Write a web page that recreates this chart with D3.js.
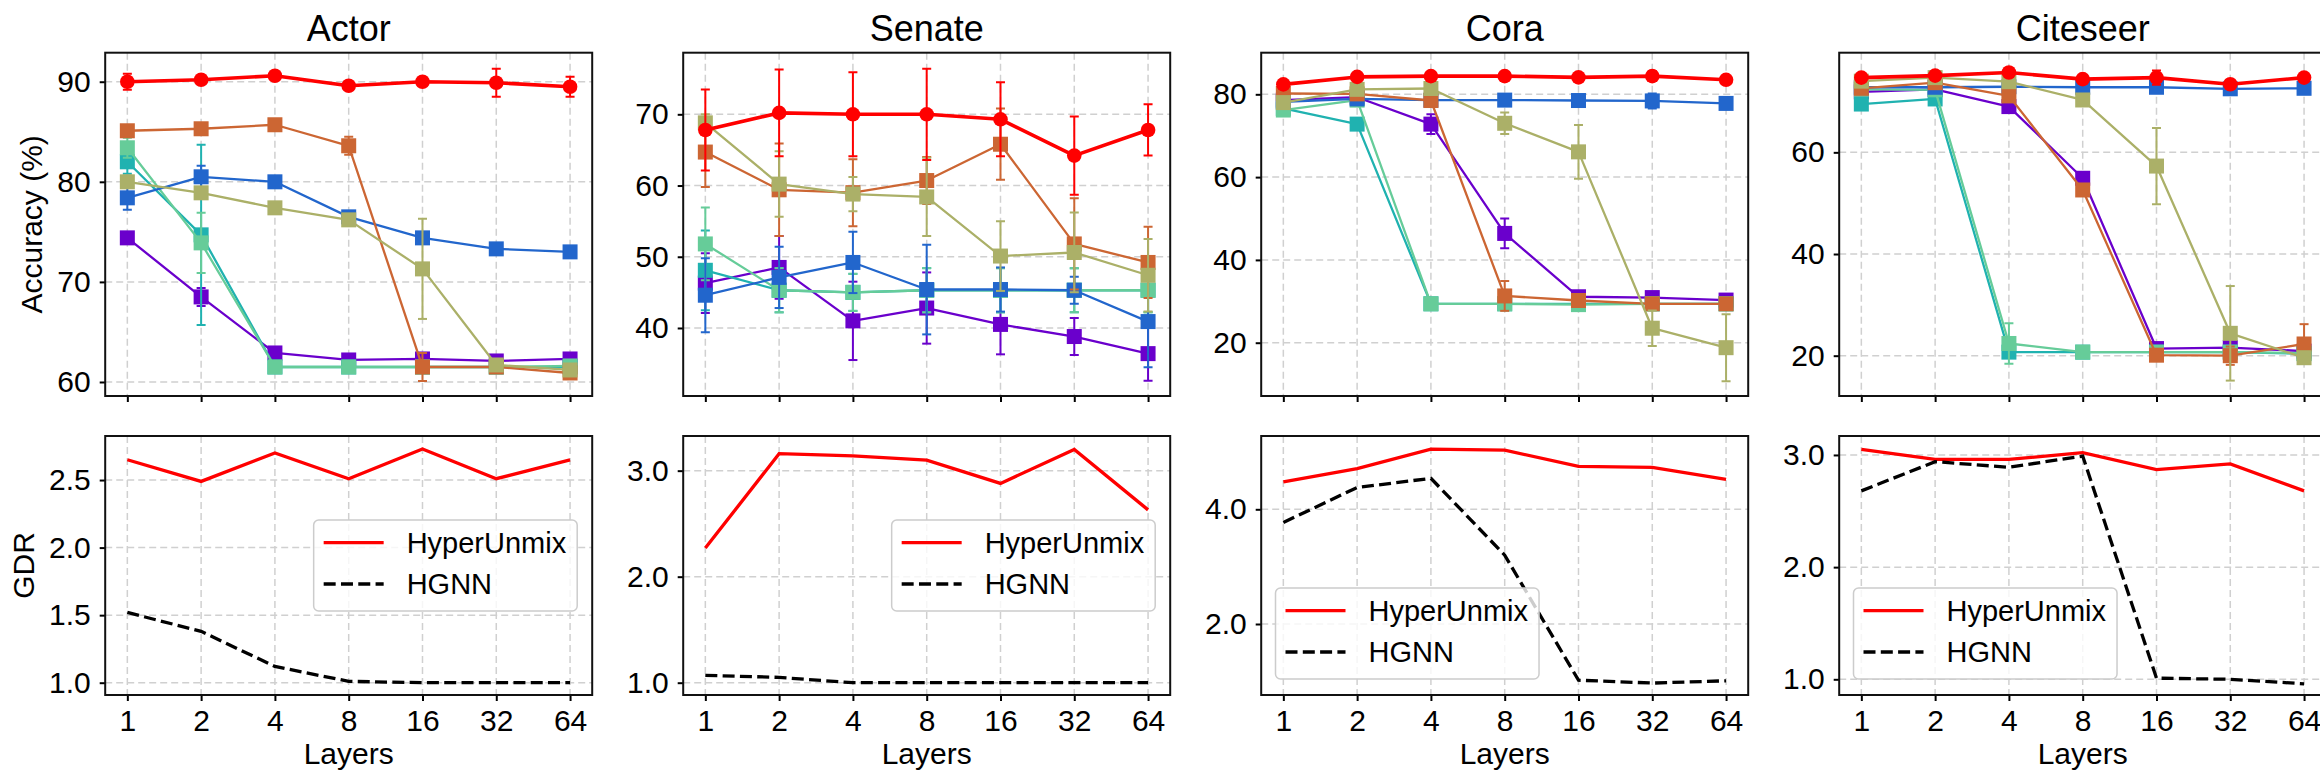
<!DOCTYPE html>
<html>
<head>
<meta charset="utf-8">
<script src="https://cdn.jsdelivr.net/npm/d3@7"></script>
<style>
  body { margin: 0; background: #fff; }
  text { font-family: "Liberation Sans", Arial, sans-serif; fill: #000; }
</style>
</head>
<body>
<svg id="fig" width="2320" height="775"></svg>
<script>
// x categories and panel names
var layers = ["1", "2", "4", "8", "16", "32", "64"];
var datasets = ["Actor", "Senate", "Cora", "Citeseer"];

// baselines (squares) + HyperUnmix (circles), drawn in this order
var methods = ["B1", "B2", "B3", "B4", "B5", "B6", "HyperUnmix"];
var colors = ["#6a00cc", "#20b2b0", "#66cc99", "#2266cc", "#cc6633", "#abb068", "#ff0000"];

// accuracy means (%), one row per method
var accActor = [
  [74.4, 68.5, 62.9, 62.2, 62.3, 62.1, 62.3],
  [82.0, 74.7, 61.5, 61.5, 61.5, 61.5, 61.5],
  [83.4, 73.9, 61.5, 61.5, 61.5, 61.5, 61.6],
  [78.4, 80.5, 80.0, 76.5, 74.4, 73.3, 73.0],
  [85.1, 85.3, 85.7, 83.6, 61.5, 61.5, 60.9],
  [80.0, 78.9, 77.4, 76.2, 71.3, 61.7, 61.2],
  [90.0, 90.2, 90.6, 89.6, 90.0, 89.9, 89.5]
];
var errActor = [
  [0.3, 0.9, 0.3, 0.3, 0.3, 0.3, 0.3],
  [1.2, 9.0, 0.2, 0.2, 0.2, 0.2, 0.2],
  [1.0, 3.0, 0.2, 0.2, 0.2, 0.2, 0.2],
  [1.2, 1.1, 0.5, 0.3, 0.3, 0.3, 0.3],
  [0.3, 0.3, 0.3, 0.9, 1.4, 0.3, 0.5],
  [0.6, 0.3, 0.3, 0.3, 5.0, 0.3, 0.3],
  [0.8, 0.3, 0.3, 0.3, 0.3, 1.4, 1.0]
];
var accSenate = [
  [46.3, 48.5, 41.0, 42.8, 40.5, 38.8, 36.4],
  [48.1, 45.3, 45.0, 45.3, 45.3, 45.3, 45.3],
  [51.8, 45.3, 45.0, 45.3, 45.3, 45.3, 45.3],
  [44.6, 47.1, 49.2, 45.4, 45.4, 45.3, 40.9],
  [64.7, 59.4, 59.0, 60.7, 65.8, 51.8, 49.2],
  [68.8, 60.2, 58.8, 58.4, 50.1, 50.6, 47.4],
  [67.8, 70.2, 70.0, 70.0, 69.3, 64.2, 67.8]
];
var errSenate = [
  [4.2, 4.4, 5.5, 5.0, 4.2, 2.6, 3.8],
  [5.6, 3.1, 2.6, 3.1, 3.1, 3.1, 3.1],
  [5.1, 3.1, 2.6, 3.1, 3.1, 3.1, 3.1],
  [5.2, 4.3, 4.3, 6.3, 3.1, 1.9, 6.4],
  [4.9, 6.5, 4.7, 3.3, 5.0, 6.4, 5.0],
  [1.2, 4.6, 2.4, 5.5, 4.9, 5.6, 5.1],
  [5.7, 6.1, 5.9, 6.4, 5.2, 5.5, 3.6]
];
var accCora = [
  [78.6, 79.3, 72.8, 46.4, 31.1, 30.9, 30.3],
  [76.6, 72.8, 29.4, 29.4, 29.4, 29.4, 29.4],
  [76.2, 78.6, 29.4, 29.4, 29.2, 29.4, 29.4],
  [78.2, 78.9, 78.6, 78.6, 78.5, 78.4, 77.8],
  [80.2, 80.1, 78.5, 31.3, 30.2, 29.4, 29.4],
  [78.0, 81.2, 81.4, 73.0, 66.1, 23.5, 18.8],
  [82.4, 84.2, 84.4, 84.4, 84.1, 84.4, 83.5]
];
var errCora = [
  [0.5, 0.5, 2.4, 3.6, 0.5, 0.5, 0.5],
  [0.5, 1.0, 0.3, 0.3, 0.3, 0.3, 0.3],
  [0.5, 0.5, 0.3, 0.3, 0.3, 0.3, 0.3],
  [0.5, 0.5, 0.5, 1.0, 0.5, 1.8, 0.5],
  [0.5, 0.5, 0.5, 3.6, 0.5, 0.5, 0.5],
  [0.5, 0.5, 0.5, 2.6, 6.5, 4.3, 8.1],
  [0.8, 0.5, 0.5, 0.5, 0.5, 1.2, 0.5]
];
var accCiteseer = [
  [71.9, 72.4, 69.0, 54.9, 21.4, 21.6, 20.9],
  [69.5, 70.5, 20.7, 20.7, 20.7, 20.7, 20.4],
  [72.4, 72.3, 22.4, 20.7, 20.7, 20.7, 20.5],
  [72.8, 72.8, 72.9, 72.8, 72.8, 72.5, 72.6],
  [72.6, 73.7, 71.1, 52.6, 20.1, 20.0, 22.3],
  [74.0, 74.7, 73.9, 70.3, 57.3, 24.4, 19.6],
  [74.7, 75.1, 75.7, 74.4, 74.7, 73.4, 74.7]
];
var errCiteseer = [
  [0.5, 0.5, 0.5, 0.5, 0.5, 0.5, 0.5],
  [0.5, 0.5, 0.5, 0.5, 0.5, 0.5, 0.5],
  [0.5, 0.5, 4.0, 0.5, 0.5, 0.5, 0.5],
  [0.5, 0.5, 0.5, 0.5, 0.5, 0.5, 0.5],
  [0.5, 0.5, 0.5, 0.5, 0.5, 1.8, 3.9],
  [0.5, 0.5, 0.5, 0.5, 7.5, 9.3, 0.5],
  [0.5, 0.5, 0.5, 0.5, 1.4, 0.5, 0.5]
];

// GDR, one row per dataset
var gdrHyperUnmix = [
  [2.65, 2.49, 2.70, 2.51, 2.73, 2.51, 2.65],
  [2.27, 3.16, 3.14, 3.10, 2.88, 3.20, 2.63],
  [4.48, 4.71, 5.05, 5.03, 4.75, 4.73, 4.52],
  [3.05, 2.96, 2.96, 3.02, 2.87, 2.92, 2.68]
];
var gdrHGNN = [
  [1.52, 1.38, 1.12, 1.01, 1.00, 1.00, 1.00],
  [1.07, 1.05, 1.00, 1.00, 1.00, 1.00, 1.00],
  [3.77, 4.38, 4.54, 3.20, 1.02, 0.97, 1.01],
  [2.68, 2.94, 2.89, 2.99, 1.01, 1.00, 0.96]
];

// axis ranges and ticks
var accDomain = [[58.6, 92.9], [30.45, 78.65], [7.13, 90.05], [12.07, 79.6]];
var accTicks = [[60, 70, 80, 90], [40, 50, 60, 70], [20, 40, 60, 80], [20, 40, 60]];
var gdrDomain = [[0.909, 2.826], [0.884, 3.327], [0.762, 5.278], [0.86, 3.169]];
var gdrTicks = [[1.0, 1.5, 2.0, 2.5], [1, 2, 3], [2, 4], [1, 2, 3]];
var legendLoc = ["center right", "center right", "lower left", "lower left"];

var accMeans = [accActor, accSenate, accCora, accCiteseer];
var accErrs = [errActor, errSenate, errCora, errCiteseer];

var svg = d3.select("#fig");
var panelW = 487, pitch = 578, left0 = 105.2;
var topBox = [52.7, 396], botBox = [436, 695];

function frame(idx, box, yDomain, yTicks, fmt, showX) {
  var left = left0 + idx * pitch;
  var x = d3.scalePoint().domain(layers).range([left, left + panelW]).padding(0.3);
  var y = d3.scaleLinear().domain(yDomain).range([box[1], box[0]]);
  var g = svg.append("g");

  // grid
  var grid = g.append("g")
      .attr("stroke", "#d0d0d0")
      .attr("stroke-width", 1.5)
      .attr("stroke-dasharray", "7,4");
  grid.selectAll("line.gx").data(layers).enter().append("line")
      .attr("x1", function(d) { return x(d); }).attr("x2", function(d) { return x(d); })
      .attr("y1", box[0]).attr("y2", box[1]);
  grid.selectAll("line.gy").data(yTicks).enter().append("line")
      .attr("y1", function(d) { return y(d); }).attr("y2", function(d) { return y(d); })
      .attr("x1", left).attr("x2", left + panelW);

  var clipId = "clip" + idx + "_" + Math.round(box[0]);
  g.append("clipPath").attr("id", clipId).append("rect")
      .attr("x", left).attr("y", box[0]).attr("width", panelW).attr("height", box[1] - box[0]);
  var plot = g.append("g").attr("clip-path", "url(#" + clipId + ")");

  var xAxis = g.append("g")
      .attr("transform", "translate(0," + box[1] + ")")
      .call(d3.axisBottom(x).tickSizeInner(6).tickSizeOuter(0).tickPadding(9)
        .tickFormat(showX ? null : function() { return ""; }));
  var yAxis = g.append("g")
      .attr("transform", "translate(" + left + ",0)")
      .call(d3.axisLeft(y).tickValues(yTicks).tickSizeInner(5.5).tickSizeOuter(0).tickPadding(9)
        .tickFormat(fmt));
  [xAxis, yAxis].forEach(function(a) {
    a.select(".domain").remove();
    a.selectAll(".tick line").attr("stroke", "#000").attr("stroke-width", 2);
    a.selectAll(".tick text").attr("font-size", 30).attr("fill", "#000")
      .attr("font-family", "'Liberation Sans', Arial, sans-serif");
  });

  return { g: g, plot: plot, x: x, y: y, left: left, box: box };
}

function spines(p) {
  p.g.append("rect")
      .attr("x", p.left).attr("y", p.box[0])
      .attr("width", panelW).attr("height", p.box[1] - p.box[0])
      .attr("fill", "none").attr("stroke", "#111").attr("stroke-width", 2);
}

datasets.forEach(function(name, di) {
  // accuracy panel
  var p = frame(di, topBox, accDomain[di], accTicks[di], d3.format("d"), false);
  var means = accMeans[di], errs = accErrs[di];
  methods.forEach(function(m, k) {
    var isOurs = m === "HyperUnmix";
    var col = colors[k];
    var pts = means[k].map(function(v, i) { return { c: layers[i], v: v, e: errs[k][i] }; });
    var s = p.plot.append("g");
    s.append("path").datum(pts)
        .attr("fill", "none").attr("stroke", col)
        .attr("stroke-width", isOurs ? 3.6 : 2.3)
        .attr("stroke-linejoin", "round")
        .attr("d", d3.line().x(function(d) { return p.x(d.c); }).y(function(d) { return p.y(d.v); }));
    var eb = s.append("g").attr("stroke", col).attr("stroke-width", 2);
    pts.forEach(function(d) {
      var cx = p.x(d.c), y1 = p.y(d.v - d.e), y2 = p.y(d.v + d.e);
      eb.append("line").attr("x1", cx).attr("x2", cx).attr("y1", y1).attr("y2", y2);
      eb.append("line").attr("x1", cx - 4.5).attr("x2", cx + 4.5).attr("y1", y1).attr("y2", y1);
      eb.append("line").attr("x1", cx - 4.5).attr("x2", cx + 4.5).attr("y1", y2).attr("y2", y2);
    });
    if (isOurs) {
      s.selectAll("circle").data(pts).enter().append("circle")
          .attr("cx", function(d) { return p.x(d.c); })
          .attr("cy", function(d) { return p.y(d.v); })
          .attr("r", 7.3).attr("fill", col);
    } else {
      s.selectAll("rect").data(pts).enter().append("rect")
          .attr("x", function(d) { return p.x(d.c) - 7.5; })
          .attr("y", function(d) { return p.y(d.v) - 7.5; })
          .attr("width", 15).attr("height", 15).attr("fill", col);
    }
  });
  spines(p);
  p.g.append("text")
      .attr("x", p.left + panelW / 2).attr("y", 40.7)
      .attr("text-anchor", "middle").attr("font-size", 36)
      .text(name);

  // GDR panel
  var q = frame(di, botBox, gdrDomain[di], gdrTicks[di], d3.format(".1f"), true);
  var gdrLine = d3.line().x(function(d, i) { return q.x(layers[i]); }).y(function(d) { return q.y(d); });
  q.plot.append("path").datum(gdrHyperUnmix[di])
      .attr("fill", "none").attr("stroke", "#ff0000").attr("stroke-width", 3.3)
      .attr("d", gdrLine);
  q.plot.append("path").datum(gdrHGNN[di])
      .attr("fill", "none").attr("stroke", "#000").attr("stroke-width", 3.3)
      .attr("stroke-dasharray", "12,5.3")
      .attr("d", gdrLine);
  spines(q);
  q.g.append("text")
      .attr("x", q.left + panelW / 2).attr("y", 764)
      .attr("text-anchor", "middle").attr("font-size", 30)
      .text("Layers");

  // legend
  var lg = q.g.append("g");
  var rowsLg = [
    { label: "HyperUnmix", stroke: "#ff0000", dash: null },
    { label: "HGNN", stroke: "#000", dash: "12,5.3" }
  ];
  var texts = rowsLg.map(function(r) {
    return lg.append("text").attr("font-size", 29).attr("dy", "0.35em").text(r.label);
  });
  var tw = d3.max(texts, function(t) { return t.node().getComputedTextLength(); });
  var bw = 10 + 60 + 23 + tw + 11, bh = 91;
  var bx, by;
  if (legendLoc[di] === "center right") {
    bx = q.left + panelW - 15 - bw;
    by = (botBox[0] + botBox[1]) / 2 - bh / 2;
  } else {
    bx = q.left + 14.3;
    by = botBox[1] - 16 - bh;
  }
  lg.insert("rect", "text")
      .attr("x", bx).attr("y", by).attr("width", bw).attr("height", bh)
      .attr("rx", 5).attr("fill", "#fff").attr("fill-opacity", 0.8)
      .attr("stroke", "#cccccc").attr("stroke-width", 1.5);
  rowsLg.forEach(function(r, i) {
    var ry = by + 22.7 + i * 41.3;
    lg.append("line")
        .attr("x1", bx + 10).attr("x2", bx + 70).attr("y1", ry).attr("y2", ry)
        .attr("stroke", r.stroke).attr("stroke-width", 3.3)
        .attr("stroke-dasharray", r.dash);
    texts[i].attr("x", bx + 93).attr("y", ry);
  });
});

// y labels (first column only)
svg.append("text")
    .attr("transform", "translate(41.7," + (topBox[0] + topBox[1]) / 2 + ") rotate(-90)")
    .attr("text-anchor", "middle").attr("font-size", 30)
    .text("Accuracy (%)");
svg.append("text")
    .attr("transform", "translate(33.7," + (botBox[0] + botBox[1]) / 2 + ") rotate(-90)")
    .attr("text-anchor", "middle").attr("font-size", 30)
    .text("GDR");
</script>
</body>
</html>
